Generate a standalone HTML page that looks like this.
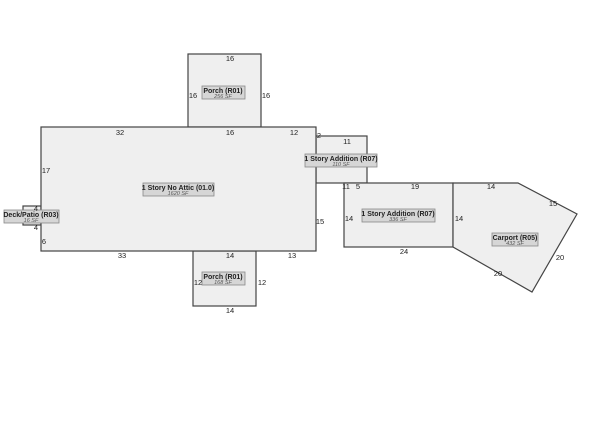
<!DOCTYPE html>
<html><head><style>
body{margin:0;background:#fff;}
svg{display:block;}
text{font-family:"Liberation Sans",sans-serif;fill:#222;}
.d{font-size:7.5px;}
.t{font-size:7px;font-weight:bold;}
.s{font-size:5.5px;font-style:italic;fill:#555;}
</style></head><body>
<svg width="600" height="428" viewBox="0 0 600 428">
<g fill="#efefef" stroke="#444" stroke-width="1.2">
<rect x="188" y="54" width="73" height="73"/>
<rect x="193" y="251" width="63" height="55"/>
<rect x="316" y="136" width="51" height="47"/>
<rect x="344" y="183" width="109" height="64"/>
<polygon points="453,183 518,183 577,214 532,292 453,247"/>
<rect x="23" y="206" width="18" height="19"/>
<rect x="41" y="127" width="275" height="124"/>
</g>
<g fill="#d6d6d6" stroke="#888" stroke-width="0.8">
<rect x="143" y="183" width="71" height="13"/>
<rect x="202" y="86" width="43" height="13"/>
<rect x="202" y="272" width="43" height="13"/>
<rect x="305" y="154" width="72" height="13"/>
<rect x="362" y="209" width="73" height="13"/>
<rect x="492" y="233" width="46" height="13"/>
<rect x="4" y="210" width="55" height="13"/>
</g>
<g text-anchor="middle">
<text class="t" x="178" y="190">1 Story No Attic (01.0)</text><text class="s" x="178" y="195">1620 SF</text>
<text class="t" x="223" y="93">Porch (R01)</text><text class="s" x="223" y="98">256 SF</text>
<text class="t" x="223" y="279">Porch (R01)</text><text class="s" x="223" y="284">168 SF</text>
<text class="t" x="341" y="161">1 Story Addition (R07)</text><text class="s" x="341" y="166">110 SF</text>
<text class="t" x="398" y="216">1 Story Addition (R07)</text><text class="s" x="398" y="221">336 SF</text>
<text class="t" x="515" y="240">Carport (R05)</text><text class="s" x="515" y="245">432 SF</text>
<text class="t" x="31" y="217">Deck/Patio (R03)</text><text class="s" x="31" y="222">16 SF</text>
</g>
<g class="d" text-anchor="middle">
<text class="d" x="230" y="61">16</text>
<text class="d" x="193" y="98">16</text>
<text class="d" x="266" y="98">16</text>
<text class="d" x="120" y="135">32</text>
<text class="d" x="230" y="135">16</text>
<text class="d" x="294" y="135">12</text>
<text class="d" x="319" y="138">2</text>
<text class="d" x="347" y="144">11</text>
<text class="d" x="46" y="173">17</text>
<text class="d" x="320" y="224">15</text>
<text class="d" x="346" y="189">11</text>
<text class="d" x="358" y="189">5</text>
<text class="d" x="415" y="189">19</text>
<text class="d" x="491" y="189">14</text>
<text class="d" x="553" y="206">15</text>
<text class="d" x="349" y="221">14</text>
<text class="d" x="459" y="221">14</text>
<text class="d" x="404" y="254">24</text>
<text class="d" x="560" y="260">20</text>
<text class="d" x="498" y="276">20</text>
<text class="d" x="36" y="211">4</text>
<text class="d" x="36" y="230">4</text>
<text class="d" x="44" y="244">6</text>
<text class="d" x="122" y="258">33</text>
<text class="d" x="230" y="258">14</text>
<text class="d" x="292" y="258">13</text>
<text class="d" x="198" y="285">12</text>
<text class="d" x="262" y="285">12</text>
<text class="d" x="230" y="313">14</text>
</g>
</svg>
</body></html>
